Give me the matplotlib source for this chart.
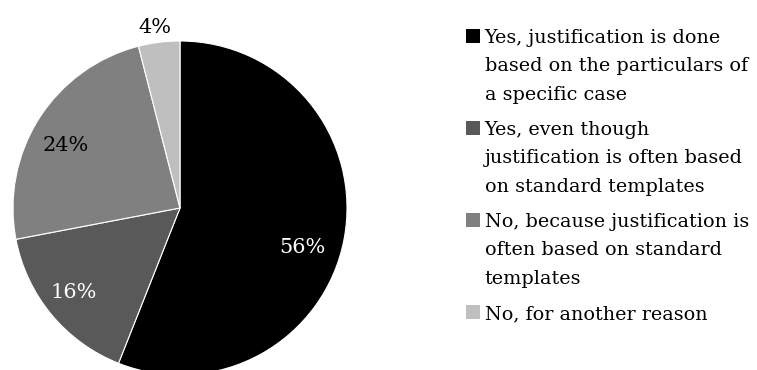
import numpy as np
import matplotlib
matplotlib.use("Agg")
import matplotlib.pyplot as plt
from matplotlib.patches import Patch

# =========================
# Data
# =========================
categories = [
    "Yes, justification is done\nbased on the particulars of\na specific case",
    "Yes, even though\njustification is often based\non standard templates",
    "No, because justification is\noften based on standard\ntemplates",
    "No, for another reason",
]
shares = [56, 16, 24, 4]

# =========================
# Style
# =========================
colors = ["#000000", "#595959", "#808080", "#bfbfbf"]
label_colors = ["white", "white", "black", "black"]
label_angle_shift = [-6.9, -1.2, 3.9, 0.7]   # degrees, nudges from the wedge middle
label_radius = [0.77, 0.81, 0.78, 1.09]

plt.rcParams["font.family"] = ["DejaVu Serif"]

W, H = 757, 370
fig = plt.figure(figsize=(W / 100, H / 100), dpi=100)

cx, cy, r = 180, 208, 167
ax = fig.add_axes([(cx - r) / W, (H - cy - r) / H, 2 * r / W, 2 * r / H])

wedges, _, autotexts = ax.pie(
    shares,
    colors=colors,
    startangle=90,
    counterclock=False,
    autopct="%d%%",
    pctdistance=0.78,
    wedgeprops=dict(edgecolor="white", linewidth=0.8),
    textprops=dict(fontsize=15),
)
ax.set_xlim(-1, 1)
ax.set_ylim(-1, 1)

for w, t, col, dth, rad in zip(wedges, autotexts, label_colors, label_angle_shift, label_radius):
    mid = np.deg2rad((w.theta1 + w.theta2) / 2 + dth)
    t.set_position((rad * np.cos(mid), rad * np.sin(mid)))
    t.set_color(col)
    t.set_clip_on(False)

handles = [Patch(facecolor=c, edgecolor="none") for c in colors]
leg = fig.legend(
    handles,
    categories,
    loc="upper left",
    bbox_to_anchor=(466 / W, 1 - 29 / H),
    frameon=False,
    fontsize=13.8,
    handlelength=0.72,
    handleheight=0.72,
    handletextpad=0.25,
    labelspacing=0.9,
    borderpad=0,
    borderaxespad=0,
)
for t in leg.get_texts():
    t.set_linespacing(1.74)
for col in leg._legend_handle_box.get_children():
    for row in col.get_children():
        row.align = "top"

fig.savefig("out.png", dpi=100)
